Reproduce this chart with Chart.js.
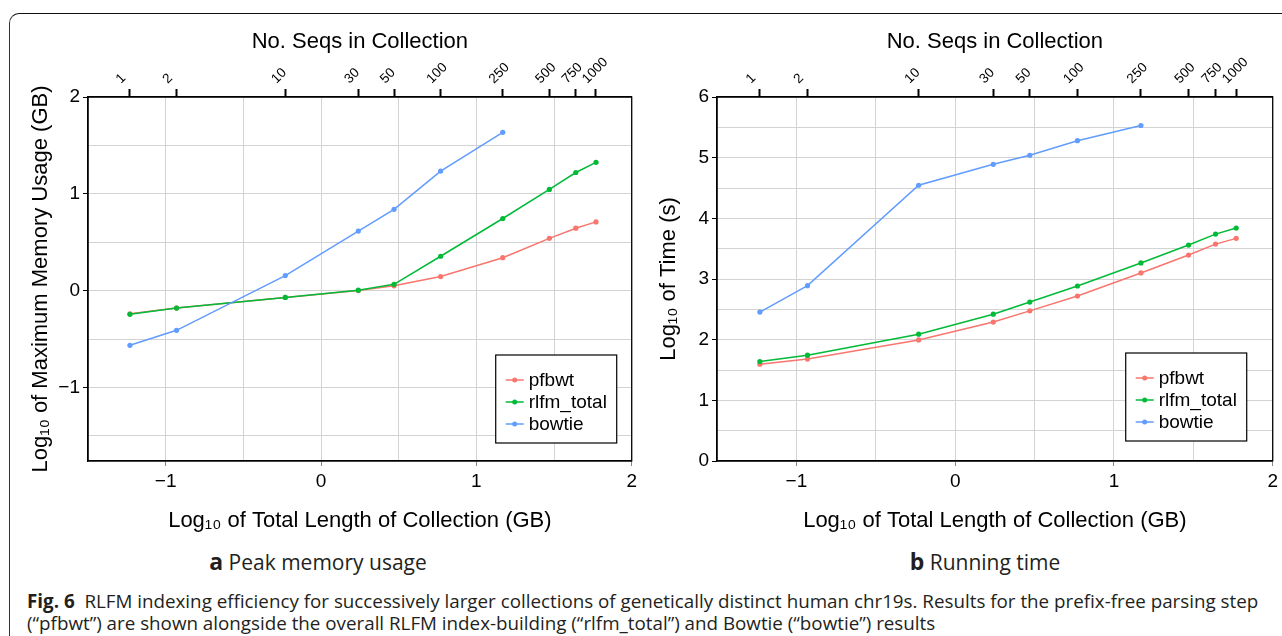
<!DOCTYPE html>
<html>
<head>
<meta charset="utf-8">
<script src="https://cdn.jsdelivr.net/npm/chart.js@4.4.1/dist/chart.umd.min.js"></script>
<style>
body { margin: 0; width: 1282px; height: 636px; background: #fff; position: relative; overflow: hidden; }
#frame { position: absolute; left: 9px; top: 13px; width: 1400px; height: 700px; border-left: 1.5px solid #333; border-top: 1.5px solid #111; border-top-left-radius: 10px; }
canvas { position: absolute; top: 0; }
#memChart { left: 0; }
#timeChart { left: 641px; }
.sub { position: absolute; top: 546px; transform: translateX(-50%); font-family: "Open Sans", Lato, sans-serif; font-size: 21px; line-height: 30px; color: #231f20; white-space: nowrap; }
.sub b { font-size: 23px; }
#caption { position: absolute; left: 27px; top: 590px; width: 1250px; font-family: "Open Sans", Lato, sans-serif; font-size: 18.8px; line-height: 22px; color: #231f20; white-space: nowrap; }
</style>
</head>
<body>
<div id="frame"></div>
<canvas id="memChart" width="641" height="545"></canvas>
<canvas id="timeChart" width="641" height="545"></canvas>
<div class="sub" style="left:318px"><b>a</b> Peak memory usage</div>
<div class="sub" style="left:985px"><b>b</b> Running time</div>
<div id="caption"><b>Fig. 6</b>&nbsp; RLFM indexing efficiency for successively larger collections of genetically distinct human chr19s. Results for the prefix-free parsing step<br>(“pfbwt”) are shown alongside the overall RLFM index-building (“rlfm_total”) and Bowtie (“bowtie”) results</div>
<script>
// shared x positions (log10 GB) and the number of sequences they stand for
const logLength = [-1.23, -0.93, -0.23, 0.24, 0.47, 0.77, 1.17, 1.47, 1.64, 1.77];
const seqCounts = ['1', '2', '10', '30', '50', '100', '250', '500', '750', '1000'];
const seriesNames = ['pfbwt', 'rlfm_total', 'bowtie'];
const seriesColors = ['#F8766D', '#00BA38', '#619CFF'];

// panel a: log10 of peak memory (GB)
const memPfbwt = [-0.24, -0.18, -0.07, 0.00, 0.05, 0.145, 0.34, 0.54, 0.645, 0.71];
const memRlfm = [-0.245, -0.18, -0.07, 0.005, 0.065, 0.355, 0.745, 1.045, 1.22, 1.325];
const memBowtie = [-0.565, -0.41, 0.155, 0.615, 0.84, 1.235, 1.635];

// panel b: log10 of time (s)
const timePfbwt = [1.595, 1.68, 1.995, 2.29, 2.475, 2.72, 3.10, 3.395, 3.575, 3.67];
const timeRlfm = [1.64, 1.745, 2.09, 2.42, 2.62, 2.885, 3.265, 3.56, 3.74, 3.84];
const timeBowtie = [2.455, 2.89, 4.545, 4.89, 5.04, 5.28, 5.53];

const FONT = '"Liberation Sans", Arial, sans-serif';

function pts(ys) {
    return ys.map((y, i) => ({x: logLength[i], y: y}));
}

function minus(v) {
    if (!Number.isInteger(v)) return '';
    return v < 0 ? '\u2212' + Math.abs(v) : String(v);
}

//black frame round the plot area
const plotBox = {
    id: 'plotBox',
    afterDraw(chart) {
        const {ctx, chartArea: a} = chart;
        ctx.save();
        ctx.strokeStyle = '#000';
        ctx.lineWidth = 1.3;
        ctx.strokeRect(a.left, a.top, a.right - a.left, a.bottom - a.top);
        ctx.restore();
    }
};

//legend box inside the plot, bottom right
const boxLegend = {
    id: 'boxLegend',
    afterDraw(chart, args, opts) {
        const {ctx, chartArea: a} = chart;
        const w = 121, h = 88;
        const x = a.right - opts.right - w;
        const y = a.bottom - opts.bottom - h;
        ctx.save();
        ctx.fillStyle = '#fff';
        ctx.fillRect(x, y, w, h);
        ctx.strokeStyle = '#000';
        ctx.lineWidth = 1.2;
        ctx.strokeRect(x, y, w, h);
        ctx.font = '19px ' + FONT;
        ctx.textBaseline = 'middle';
        chart.data.datasets.forEach((ds, i) => {
            const cy = y + 25 + i * 22;
            ctx.strokeStyle = ds.borderColor;
            ctx.lineWidth = 1.5;
            ctx.beginPath();
            ctx.moveTo(x + 10, cy);
            ctx.lineTo(x + 28, cy);
            ctx.stroke();
            ctx.fillStyle = ds.borderColor;
            ctx.beginPath();
            ctx.arc(x + 19, cy, 2.5, 0, Math.PI * 2);
            ctx.fill();
            ctx.fillStyle = '#000';
            ctx.fillText(ds.label, x + 33, cy + 1);
        });
        ctx.restore();
    }
};

const gridColor = '#d3d3d3';
const intTick = c => Number.isInteger(c.tick.value) ? '#000' : 'rgba(0,0,0,0)';

function createChart(id, series, yMin, yMax, yTitle, yWidth, yTitlePad, legendRight, legendBottom) {
    const canvas = document.getElementById(id);
    return new Chart(canvas, {
        type: 'line',
        data: {
            datasets: series.map((s, i) => ({
                label: seriesNames[i],
                data: pts(s),
                borderColor: seriesColors[i],
                backgroundColor: seriesColors[i],
                borderWidth: 1.5,
                pointRadius: 2.6,
                pointBorderWidth: 0,
                order: 3 - i
            }))
        },
        options: {
            responsive: false,
            animation: false,
            devicePixelRatio: 1,
            layout: {padding: {right: 8, left: 0, top: 0, bottom: 0}},
            plugins: {
                legend: {display: false},
                tooltip: {enabled: false},
                boxLegend: {right: legendRight, bottom: legendBottom}
            },
            scales: {
                x: {
                    type: 'linear',
                    position: 'bottom',
                    min: -1.5,
                    max: 2,
                    afterFit: s => { s.height = 84; },
                    ticks: {stepSize: 0.5, callback: minus, color: '#000', font: {family: FONT, size: 19}, padding: 4, maxRotation: 0},
                    grid: {color: gridColor, lineWidth: 1, tickLength: 5, tickColor: c => Number.isInteger(c.tick.value) ? '#888' : 'rgba(0,0,0,0)'},
                    border: {color: '#000', width: 1.3},
                    title: {display: true, text: 'Log\u2081\u2080 of Total Length of Collection (GB)', color: '#000', font: {family: FONT, size: 22}, padding: {top: 0, bottom: 11}}
                },
                xTop: {
                    type: 'linear',
                    position: 'top',
                    min: -1.5,
                    max: 2,
                    afterFit: s => { s.height = 97; },
                    afterBuildTicks: s => { s.ticks = logLength.map(v => ({value: v})); },
                    ticks: {autoSkip: false, minRotation: 45, maxRotation: 45, callback: (v, i) => seqCounts[i], color: '#000', font: {family: FONT, size: 13.5}, padding: 2},
                    grid: {drawOnChartArea: false, tickLength: 8, tickColor: '#000', tickWidth: 2},
                    border: {color: '#000', width: 1.3},
                    title: {display: true, text: 'No. Seqs in Collection', color: '#000', font: {family: FONT, size: 22}, padding: {top: 29, bottom: 0}}
                },
                y: {
                    type: 'linear',
                    min: yMin,
                    max: yMax,
                    afterFit: s => { s.width = yWidth; },
                    ticks: {stepSize: 0.5, includeBounds: false, callback: minus, color: '#000', font: {family: FONT, size: 19}, padding: 3},
                    grid: {color: gridColor, lineWidth: 1, tickLength: 5, tickColor: intTick},
                    border: {color: '#000', width: 1.3},
                    title: {display: true, text: yTitle, color: '#000', font: {family: FONT, size: 22}, padding: {top: yTitlePad, bottom: 0}}
                }
            }
        },
        plugins: [plotBox, boxLegend]
    });
}

createChart('memChart', [memPfbwt, memRlfm, memBowtie], -1.76, 2,
    'Log\u2081\u2080 of Maximum Memory Usage (GB)', 88, 28, 15, 18);
createChart('timeChart', [timePfbwt, timeRlfm, timeBowtie], 0, 6,
    'Log\u2081\u2080 of Time (s)', 76, 15, 26, 20);
</script>
</body>
</html>
